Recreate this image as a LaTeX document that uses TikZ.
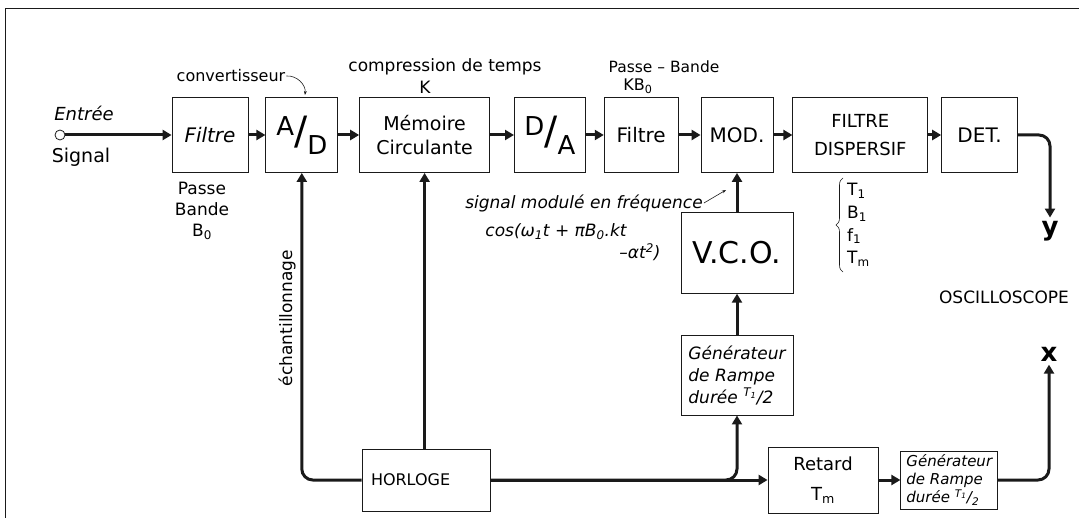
\documentclass[tikz,border=0pt]{standalone}
\usepackage{fontspec}
\setsansfont{DejaVu Sans}
\usetikzlibrary{arrows.meta,positioning,decorations.pathreplacing}
\definecolor{ink}{HTML}{1A1A1A}
\newcommand{\fsz}[2]{\fontsize{#1}{#2}\selectfont}
\tikzset{
  blk/.style={draw=ink, thick, align=center, inner sep=0pt, minimum height=75pt, font=\sffamily\fsz{20}{24}},
  flow/.style={-{Triangle[length=9pt,width=10pt]}, line width=3pt, draw=ink, rounded corners=11pt},
  note/.style={font=\sffamily\fsz{17}{21}, align=center, inner sep=1pt},
  hint/.style={-{Stealth[length=4pt]}, semithick, draw=ink}
}

\begin{document}
\begin{tikzpicture}[x=1pt, y=1pt, node distance=19pt]
  \useasboundingbox (0,0) rectangle (1079,-518);
  \draw[ink, thick] (5,-518) -- (5,-8) -- (1079,-8);

  % signal chain
  \node[circle, draw=ink, thick, minimum size=10pt, inner sep=0pt] (inp) at (60,-135) {};
  \node[blk, minimum width=76pt, font=\sffamily\itshape\fsz{20}{24}] (filt1) at (210,-135) {Filtre};
  \node[blk, minimum width=72pt, right=17pt of filt1] (ad) {\fsz{26}{30}\raisebox{0.6ex}{A}\scalebox{1.5}{/}\raisebox{-0.7ex}{D}};
  \node[blk, minimum width=130pt, right=21pt of ad, font=\sffamily\fsz{19}{24}] (mem) {Mémoire\\Circulante};
  \node[blk, minimum width=71pt, right=24pt of mem] (da) {\fsz{26}{30}\raisebox{0.6ex}{D}\scalebox{1.5}{/}\raisebox{-0.7ex}{A}};
  \node[blk, minimum width=74pt, right=18pt of da] (filt2) {Filtre};
  \node[blk, minimum width=72pt, right=22pt of filt2] (mod) {MOD.};
  \node[blk, minimum width=135pt, right=19pt of mod, font=\sffamily\fsz{18}{28}] (fdisp) {FILTRE\\DISPERSIF};
  \node[blk, minimum width=76pt, right=13pt of fdisp] (det) {DET.};

  % modulation branch
  \node[blk, minimum width=112pt, minimum height=81pt, below=39pt of mod, font=\sffamily\fsz{30}{32}] (vco) {V.C.O.};
  \node[blk, minimum width=112pt, minimum height=80pt, below=41pt of vco, align=left, font=\sffamily\itshape\fsz{17}{22}] (genA) {Générateur\\de Rampe\\durée \textsuperscript{T\textsubscript{1}}/2};

  % timing row
  \node[blk, minimum width=128pt, minimum height=62pt, text width=110pt, align=left, font=\sffamily\fsz{16}{19}] (horloge) at (426,-480) {HORLOGE};
  \node[blk, minimum width=110pt, minimum height=66pt, font=\sffamily\fsz{18}{30}] (retard) at (823,-480) {Retard\\T\textsubscript{m}};
  \node[blk, minimum width=97pt, minimum height=58pt, right=22pt of retard, align=left, font=\sffamily\itshape\fsz{15}{18}] (genB) {Générateur\\de Rampe\\durée \textsuperscript{T\textsubscript{1}}/\textsubscript{2}};

  % outputs
  \node[font=\sffamily\bfseries\fsz{26}{26}] (ylab) at (1050,-231) {y};
  \node[font=\sffamily\bfseries\fsz{26}{26}] (xlab) at (1049,-354) {x};
  \node[note] (osc) at (1004,-297) {OSCILLOSCOPE};

  % labels
  \node[note, font=\sffamily\itshape\fsz{18}{21}] (entree) at (84,-113) {Entrée};
  \node[note, font=\sffamily\fsz{19}{21}] (signal) at (81,-157) {Signal};
  \node[note, font=\sffamily\fsz{16}{19}] (conv) at (231,-76) {convertisseur};
  \node[note] (compr) at (445,-67) {compression de temps};
  \node[note] (kfac) at (425,-87) {K};
  \node[note, font=\sffamily\fsz{15.5}{19}] (pb2) at (664,-67) {Passe – Bande};
  \node[note, font=\sffamily\fsz{16}{19}] (kb) at (638,-86) {KB\textsubscript{0}};
  \node[note, font=\sffamily\fsz{17}{21}] (pb1) at (202,-211) {Passe\\Bande\\B\textsubscript{0}};
  \node[note, rotate=90] (echant) at (287,-318) {échantillonnage};
  \node[note, font=\sffamily\itshape\fsz{17}{21}] (sig) at (584,-203) {signal modulé en fréquence};
  \node[note, font=\sffamily\itshape\fsz{17}{21}] (cosf) at (556,-232) {cos(ω\textsubscript{1}t + πB\textsubscript{0}.kt};
  \node[note, font=\sffamily\itshape\fsz{17}{21}] (alph) at (640,-252) {–αt\textsuperscript{2})};
  \node[note, anchor=west, align=left, font=\sffamily\fsz{17}{22.7}] (params) at (846,-225)
    {T\textsubscript{1}\\B\textsubscript{1}\\f\textsubscript{1}\\T\textsubscript{m}};
  \draw[ink, semithick, decorate, decoration={brace, amplitude=7pt}] (843,-272) -- (843,-178);

  \coordinate (vmtip) at (726,-190);
  \coordinate (adtip) at (305,-95);

  % connectors
  \draw[flow] (inp.east) -- (inp.east -| filt1.west);
  \draw[flow] (filt1) -- (ad);
  \draw[flow] (ad) -- (mem);
  \draw[flow] (mem) -- (da);
  \draw[flow] (da) -- (filt2);
  \draw[flow] (filt2) -- (mod);
  \draw[flow] (mod) -- (fdisp);
  \draw[flow] (fdisp) -- (det);
  \draw[flow] (det.east) -| (ylab.north);
  \draw[flow] (vco) -- (mod);
  \draw[flow] (genA) -- (vco);
  \draw[flow] (horloge.west) -| (ad.south);
  \draw[flow] (horloge.north -| mem.south) -- (mem.south);
  \draw[flow] (horloge.east) -| (genA.south);
  \draw[flow] (horloge.east) -- (retard.west);
  \draw[flow] (retard) -- (genB);
  \draw[flow] (genB.east) -| (xlab.south);
  \draw[hint] (conv.east) to[bend left=50] (adtip);
  \draw[hint] (sig.east) -- (vmtip);
\end{tikzpicture}
\end{document}
